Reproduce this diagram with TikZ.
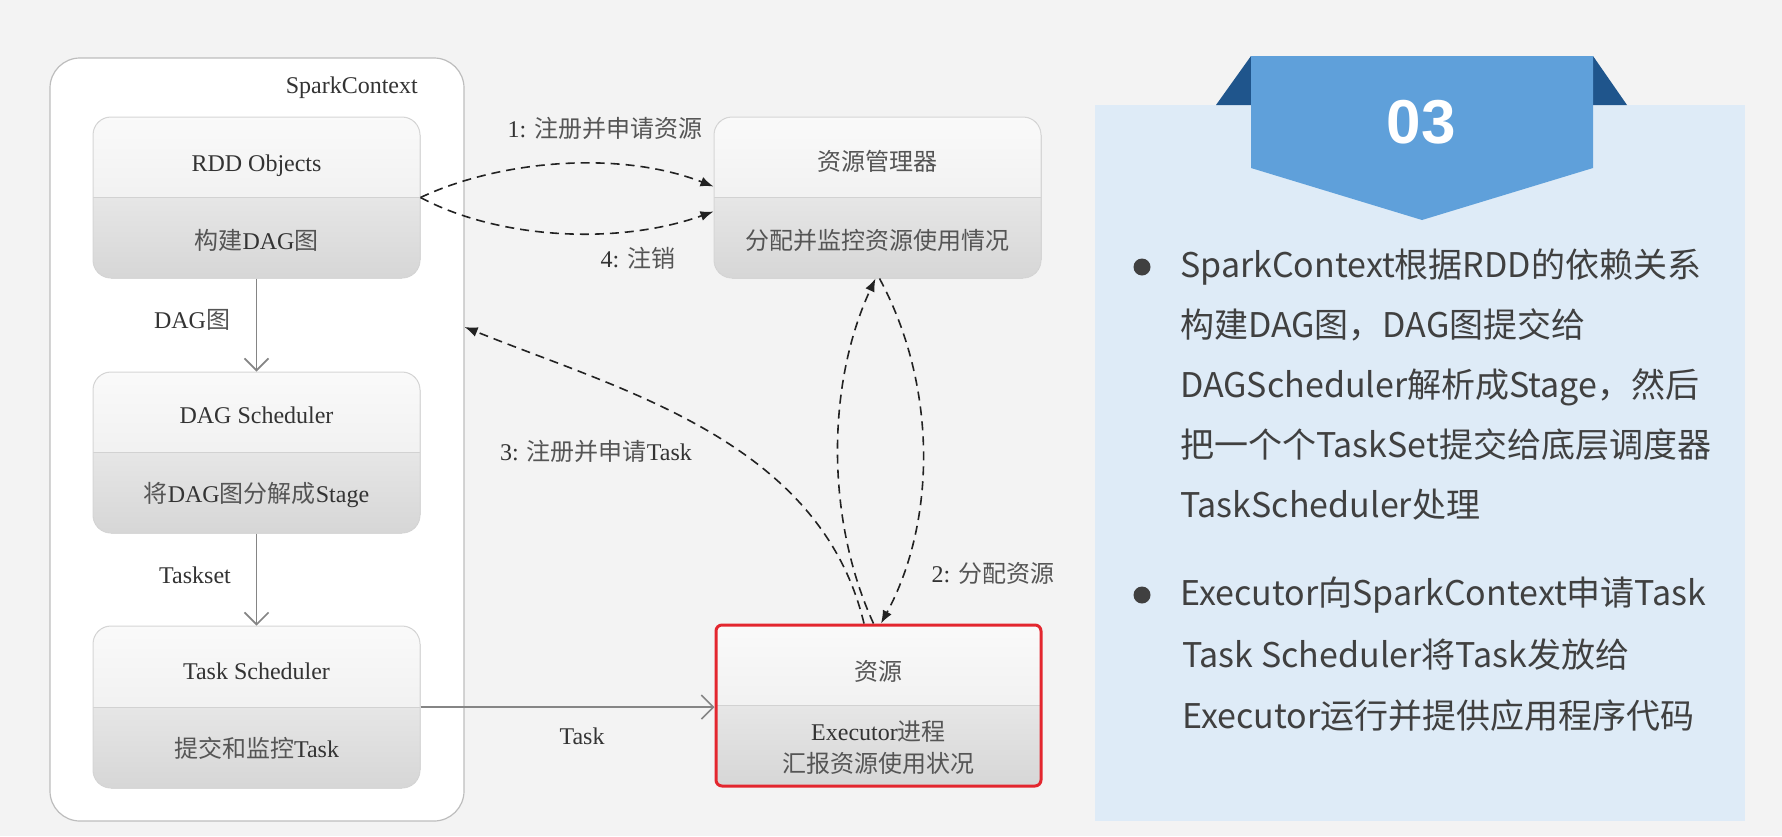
\documentclass[tikz,border=0pt]{standalone}
\usepackage{fontspec}
\setmainfont{Liberation Serif}
\newfontfamily\cjk{Noto Sans CJK SC}
\newfontfamily\numfont{Liberation Sans}
\usetikzlibrary{arrows.meta,calc}
\definecolor{bg}{HTML}{F3F3F3}
\definecolor{panel}{HTML}{DEEBF7}
\definecolor{ribbon}{HTML}{5FA0DA}
\definecolor{flap}{HTML}{1F558C}
\definecolor{boxline}{HTML}{D6D6D6}
\definecolor{scline}{HTML}{BDBDBD}
\definecolor{topA}{HTML}{FAFAFA}
\definecolor{topB}{HTML}{E9E9E9}
\definecolor{botA}{HTML}{E6E6E6}
\definecolor{botB}{HTML}{D6D6D6}
\definecolor{divline}{HTML}{D2D2D2}
\definecolor{txt}{HTML}{333333}
\definecolor{zhgray}{HTML}{555555}
\definecolor{rtxt}{HTML}{404040}
\definecolor{dashc}{HTML}{222222}
\definecolor{solidc}{HTML}{858585}
\definecolor{redc}{HTML}{E3262E}
\newcommand\zh[1]{{\cjk\color{zhgray}#1}}
\begin{document}
\begin{tikzpicture}[x=1pt,y=-1pt,
  lbl/.style={inner sep=0pt, text=txt, font=\fontsize{24pt}{28pt}\selectfont},
  rlbl/.style={inner sep=0pt, text=rtxt, anchor=base west, font=\cjk\fontsize{34pt}{40pt}\selectfont},
  box/.style={rounded corners=18pt, draw=boxline, line width=1pt,
    minimum width=327pt, minimum height=161pt, inner sep=0pt,
    path picture={
      \fill[sharp corners, top color=topA, bottom color=topB] ([xshift=-2pt,yshift=2pt]path picture bounding box.north west) rectangle ([xshift=2pt]path picture bounding box.east);
      \fill[sharp corners, top color=botA, bottom color=botB] ([xshift=-2pt]path picture bounding box.west) rectangle ([xshift=2pt,yshift=-2pt]path picture bounding box.south east);
      \draw[sharp corners, divline, line width=1pt] ([xshift=-2pt]path picture bounding box.west) -- ([xshift=2pt]path picture bounding box.east);
    }},
  scbox/.style={rounded corners=30pt, draw=scline, fill=white, line width=1.2pt,
    minimum width=414pt, minimum height=763pt, inner sep=0pt},
  dasharr/.style={draw=dashc, line width=1.6pt, dash pattern=on 9pt off 6pt,
    -{Latex[length=13pt,width=10pt]}},
  solidarr/.style={draw=solidc, line width=1.6pt,
    -{Straight Barb[length=12pt,width=24pt]}}
]
\path[use as bounding box, fill=bg] (0,0) rectangle (1782,836);

% ---------- right panel ----------
\fill[panel] (1095,105) rectangle (1745,821);
\fill[flap] (1216,105) -- (1251,56) -- (1251,105) -- cycle;
\fill[flap] (1593,56) -- (1627,105) -- (1593,105) -- cycle;
\fill[ribbon] (1251,56) -- (1593,56) -- (1593,168) -- (1422,220) -- (1251,168) -- cycle;
\node[inner sep=0pt, anchor=base, text=white, font=\numfont\bfseries\fontsize{62pt}{70pt}\selectfont] (num) at (1421,143) {03};

\fill[rtxt] (1142,267) circle (8.5pt);
\node[rlbl] (b1a) at (1180,277) {SparkContext根据RDD的依赖关系};
\node[rlbl] (b1b) at (1180,337) {构建DAG图，DAG图提交给};
\node[rlbl] (b1c) at (1180,397) {DAGScheduler解析成Stage，然后};
\node[rlbl] (b1d) at (1180,457) {把一个个TaskSet提交给底层调度器};
\node[rlbl] (b1e) at (1180,517) {TaskScheduler处理};
\fill[rtxt] (1142,595) circle (8.5pt);
\node[rlbl] (b2a) at (1180,605) {Executor向SparkContext申请Task};
\node[rlbl] (b2b) at (1182,667) {Task Scheduler将Task发放给};
\node[rlbl] (b2c) at (1182,728) {Executor运行并提供应用程序代码};

% ---------- left diagram ----------
\node[scbox] (sc) at (257,439.5) {};
\node[lbl, anchor=base east] (lsc) at (418,93) {SparkContext};

\node[box] (rdd) at (256.5,197.5) {};
\node[lbl, anchor=base] (rdd1) at (256.5,171) {RDD Objects};
\node[lbl, anchor=base] (rdd2) at (256.5,249) {\zh{构建}DAG\zh{图}};

\node[box] (dag) at (256.5,452.5) {};
\node[lbl, anchor=base] (dag1) at (256.5,423) {DAG Scheduler};
\node[lbl, anchor=base] (dag2) at (256.5,502) {\zh{将}DAG\zh{图分解成}Stage};

\node[box, minimum height=162pt] (ts) at (256.5,707) {};
\node[lbl, anchor=base] (ts1) at (256.5,679) {Task Scheduler};
\node[lbl, anchor=base] (ts2) at (256.5,757) {\zh{提交和监控}Task};

\node[box] (rm) at (877.5,197.5) {};
\node[lbl, anchor=base] (rm1) at (877.5,170) {\zh{资源管理器}};
\node[lbl, anchor=base] (rm2) at (877.5,249) {\zh{分配并监控资源使用情况}};

\node[box, draw=redc, line width=3pt, rounded corners=6pt, minimum width=325pt] (ex) at (878.5,705.5) {};
\node[lbl, anchor=base] (ex1) at (878.5,680) {\zh{资源}};
\node[lbl, anchor=base] (ex2) at (878.5,740) {Executor\zh{进程}};
\node[lbl, anchor=base] (ex3) at (878.5,772) {\zh{汇报资源使用状况}};

% labels
\node[lbl, anchor=base] (ldag) at (192,328) {DAG\zh{图}};
\node[lbl, anchor=base] (lset) at (195,583) {Taskset};
\node[lbl, anchor=base] (ltask) at (582,744) {Task};
\node[lbl, anchor=base] (l1) at (605,137) {1: \zh{注册并申请资源}};
\node[lbl, anchor=base] (l4) at (638,267) {4: \zh{注销}};
\node[lbl, anchor=base] (l3) at (596,460) {3: \zh{注册并申请}Task};
\node[lbl, anchor=base] (l2) at (993,582) {2: \zh{分配资源}};

% connectors
\draw[solidarr] (rdd.south) -- (dag.north);
\draw[solidarr] (dag.south) -- (ts.north);
\draw[solidarr] (ts.east) -- (ts.east -| ex.west);

\draw[dasharr] (rdd.east) .. controls (500,160) and (620,150) .. ([yshift=11pt]rm.west);
\draw[dasharr] (rdd.east) .. controls (500,240) and (620,245) .. ([yshift=-14pt]rm.west);

\draw[dasharr] ([xshift=-5pt]ex.north) .. controls (826,520) and (826,385) .. ([xshift=-2pt]rm.south);
\draw[dasharr] ([xshift=2pt]rm.south) .. controls (937,385) and (937,520) .. ([xshift=2.5pt]ex.north);

\draw[dasharr] ([xshift=-14.5pt]ex.north) .. controls (820,440) and (620,390) .. ([yshift=112.5pt]sc.east);
\end{tikzpicture}
\end{document}
